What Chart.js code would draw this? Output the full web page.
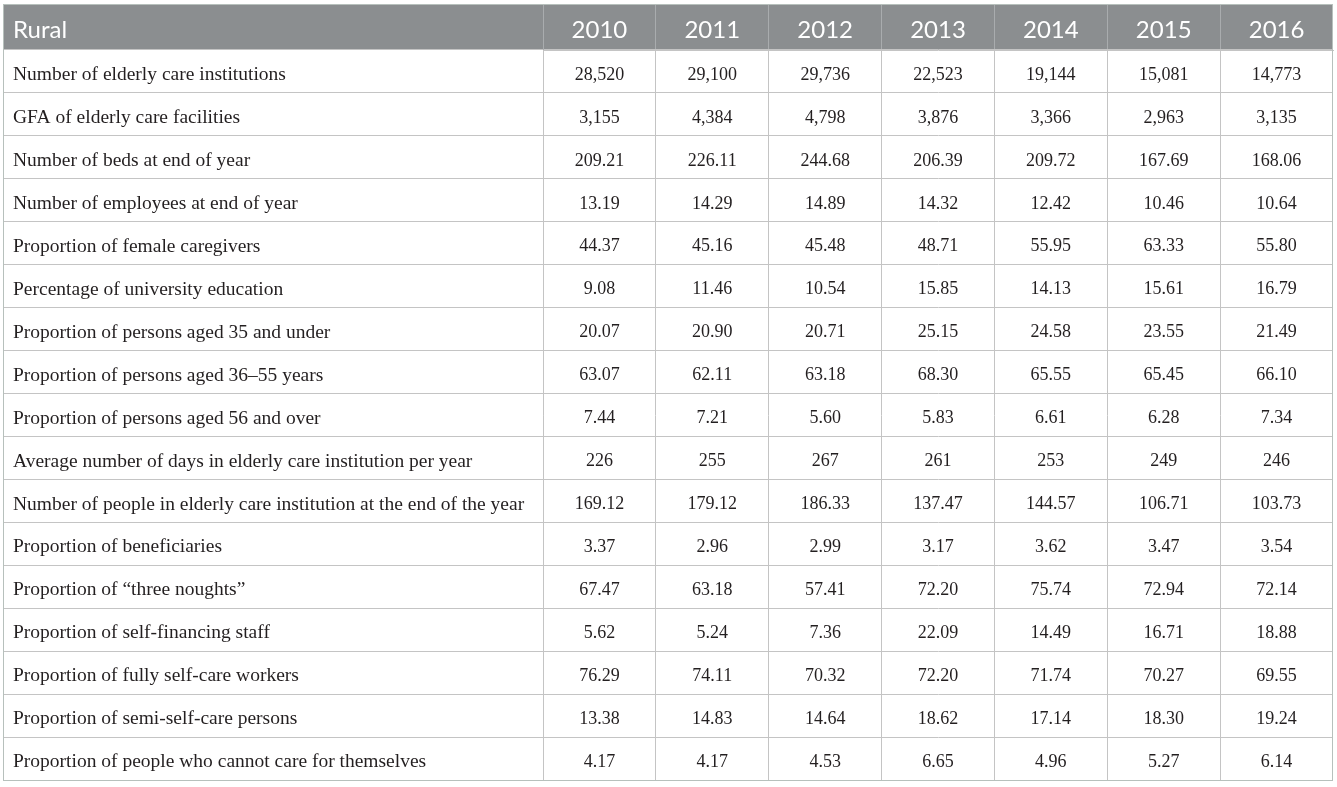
<!DOCTYPE html>
<html>
<head>
<meta charset="utf-8">
<script src="https://cdn.jsdelivr.net/npm/chart.js@4.4.1/dist/chart.umd.min.js"></script>
<style>
  html, body { margin: 0; padding: 0; background: #ffffff; }
  #wrap { width: 1337px; height: 787px; position: relative; }
</style>
</head>
<body>
<div id="wrap"><canvas id="c"></canvas></div>
<script>
// ---------- DATA ----------
const headerTitle = 'Rural';
const years = ['2010', '2011', '2012', '2013', '2014', '2015', '2016'];
const rowLabels = [
  'Number of elderly care institutions',
  'GFA of elderly care facilities',
  'Number of beds at end of year',
  'Number of employees at end of year',
  'Proportion of female caregivers',
  'Percentage of university education',
  'Proportion of persons aged 35 and under',
  'Proportion of persons aged 36\u201355 years',
  'Proportion of persons aged 56 and over',
  'Average number of days in elderly care institution per year',
  'Number of people in elderly care institution at the end of the year',
  'Proportion of beneficiaries',
  'Proportion of \u201cthree noughts\u201d',
  'Proportion of self-financing staff',
  'Proportion of fully self-care workers',
  'Proportion of semi-self-care persons',
  'Proportion of people who cannot care for themselves'
];
const rowDecimals = [0, 0, 2, 2, 2, 2, 2, 2, 2, 0, 2, 2, 2, 2, 2, 2, 2];

const v2010 = [28520, 3155, 209.21, 13.19, 44.37, 9.08, 20.07, 63.07, 7.44, 226, 169.12, 3.37, 67.47, 5.62, 76.29, 13.38, 4.17];
const v2011 = [29100, 4384, 226.11, 14.29, 45.16, 11.46, 20.90, 62.11, 7.21, 255, 179.12, 2.96, 63.18, 5.24, 74.11, 14.83, 4.17];
const v2012 = [29736, 4798, 244.68, 14.89, 45.48, 10.54, 20.71, 63.18, 5.60, 267, 186.33, 2.99, 57.41, 7.36, 70.32, 14.64, 4.53];
const v2013 = [22523, 3876, 206.39, 14.32, 48.71, 15.85, 25.15, 68.30, 5.83, 261, 137.47, 3.17, 72.20, 22.09, 72.20, 18.62, 6.65];
const v2014 = [19144, 3366, 209.72, 12.42, 55.95, 14.13, 24.58, 65.55, 6.61, 253, 144.57, 3.62, 75.74, 14.49, 71.74, 17.14, 4.96];
const v2015 = [15081, 2963, 167.69, 10.46, 63.33, 15.61, 23.55, 65.45, 6.28, 249, 106.71, 3.47, 72.94, 16.71, 70.27, 18.30, 5.27];
const v2016 = [14773, 3135, 168.06, 10.64, 55.80, 16.79, 21.49, 66.10, 7.34, 246, 103.73, 3.54, 72.14, 18.88, 69.55, 19.24, 6.14];
const seriesByYear = [v2010, v2011, v2012, v2013, v2014, v2015, v2016];

// ---------- STYLE ----------
const HEADER_BG = '#8b8e90';
const GRID = '#c4c4c4';
const OUTER = '#b7c0bc';
const TEXT = '#231f20';
const SERIF = "'Liberation Serif', 'DejaVu Serif', serif";
const SANS = "Lato, 'Open Sans', sans-serif";
const CELL_FONT_SIZE = 18;
const LABEL_FONT_SIZE = 19.5;
const TEXT_DY = 3.5;     // serif text sits slightly below the row centre
const LABEL_COL = 530;   // row-label column width (plus tick extension)
const HEADER_H = 46;

function fmt(v, d) {
  return v.toLocaleString('en-US', { minimumFractionDigits: d, maximumFractionDigits: d });
}

const datasets = seriesByYear.map((vals, j) => ({
  label: years[j],
  data: vals.map((v, i) => ({ x: years[j], y: rowLabels[i], v: v, d: rowDecimals[i] })),
  pointRadius: 0,
  pointHoverRadius: 0,
  showLine: false
}));

const tablePlugin = {
  id: 'tablePlugin',
  beforeDraw(chart) {
    const { ctx, chartArea } = chart;
    const xs = chart.scales.x, ys = chart.scales.y;
    const left = ys.right - chart.options.scales.y.grid.tickLength;
    ctx.save();
    ctx.fillStyle = HEADER_BG;
    ctx.fillRect(left, xs.top, chartArea.right - left, xs.bottom - xs.top);
    ctx.restore();
  },
  afterDatasetsDraw(chart) {
    const { ctx } = chart;
    const ys = chart.scales.y;
    ctx.save();
    ctx.fillStyle = TEXT;
    ctx.textBaseline = 'middle';
    // row labels (y-axis categories), left aligned in the label column
    ctx.font = LABEL_FONT_SIZE + 'px ' + SERIF;
    ctx.textAlign = 'left';
    rowLabels.forEach((lab, i) => {
      ctx.fillText(lab, ys.left, ys.getPixelForValue(i) + TEXT_DY);
    });
    // cell values
    ctx.font = CELL_FONT_SIZE + 'px ' + SERIF;
    ctx.textAlign = 'center';
    chart.data.datasets.forEach((ds, di) => {
      const meta = chart.getDatasetMeta(di);
      meta.data.forEach((el, i) => {
        const raw = ds.data[i];
        ctx.fillText(fmt(raw.v, raw.d), el.x, el.y + TEXT_DY);
      });
    });
    ctx.restore();
  },
  afterDraw(chart) {
    const { ctx, chartArea } = chart;
    const xs = chart.scales.x, ys = chart.scales.y;
    const left = ys.right - chart.options.scales.y.grid.tickLength;
    ctx.save();
    // header title
    ctx.fillStyle = '#ffffff';
    ctx.font = '24px ' + SANS;
    ctx.textAlign = 'left';
    ctx.textBaseline = 'middle';
    ctx.fillText(headerTitle, ys.left, (xs.top + xs.bottom) / 2 + 3);
    // outer border
    ctx.strokeStyle = OUTER;
    ctx.lineWidth = 1;
    ctx.strokeRect(left + 0.5, xs.top + 0.5, chartArea.right - left - 1, chartArea.bottom - xs.top);
    ctx.restore();
  }
};

new Chart(document.getElementById('c'), {
  type: 'scatter',
  data: { datasets },
  options: {
    responsive: true,
    maintainAspectRatio: false,
    animation: false,
    events: [],
    layout: { padding: { left: 13, top: 4, right: 4, bottom: 7 } },
    plugins: { legend: { display: false }, tooltip: { enabled: false } },
    scales: {
      x: {
        type: 'category',
        labels: years,
        position: 'top',
        offset: true,
        grid: { offset: true, color: GRID, tickColor: '#a9acae', tickLength: HEADER_H, drawTicks: true },
        border: { display: true, color: GRID },
        ticks: { color: '#ffffff', font: { family: SANS, size: 24 }, padding: -(HEADER_H - 8.6) - 3, maxRotation: 0, autoSkip: false },
        afterFit(scale) { scale.height = HEADER_H; }
      },
      y: {
        type: 'category',
        labels: rowLabels,
        position: 'left',
        offset: true,
        grid: { offset: true, color: GRID, tickColor: GRID, tickLength: LABEL_COL + 10, drawTicks: true },
        border: { display: true, color: GRID },
        ticks: { display: false },
        afterFit(scale) { scale.width = LABEL_COL; }
      }
    }
  },
  plugins: [tablePlugin]
});
</script>
</body>
</html>
